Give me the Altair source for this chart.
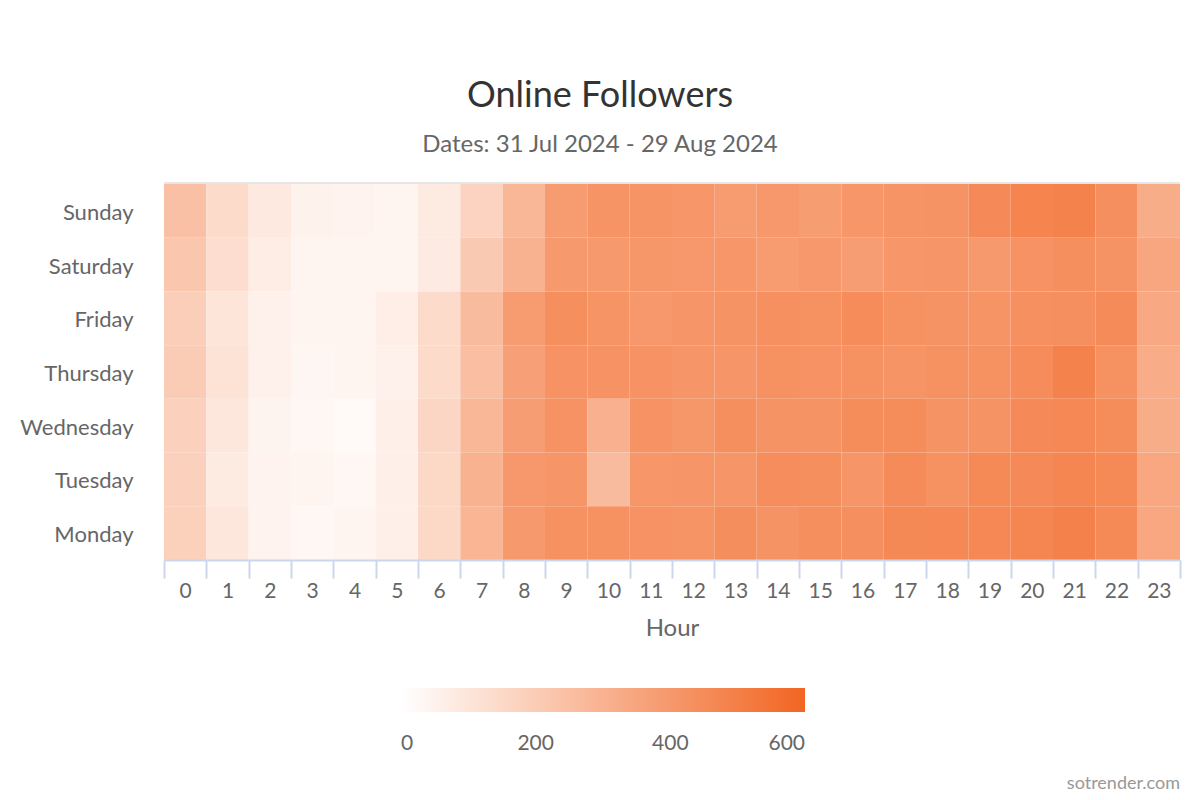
import altair as alt
import pandas as pd

days = ["Sunday", "Saturday", "Friday", "Thursday", "Wednesday", "Tuesday", "Monday"]
hours = list(range(24))

sunday    = [244, 142, 85, 52, 47, 41, 82, 172, 282, 389, 416, 416, 408, 389, 402, 383, 408, 416, 419, 454, 479, 487, 435, 320]
saturday  = [219, 131, 71, 38, 41, 41, 77, 211, 301, 394, 394, 405, 400, 408, 386, 402, 380, 408, 411, 397, 424, 438, 419, 348]
friday    = [189, 101, 57, 38, 38, 66, 140, 265, 386, 438, 416, 400, 411, 419, 432, 427, 449, 430, 419, 416, 432, 435, 452, 334]
thursday  = [200, 112, 57, 36, 38, 55, 140, 252, 369, 424, 424, 424, 411, 411, 427, 424, 427, 416, 430, 427, 449, 487, 427, 323]
wednesday = [183, 96, 44, 33, 22, 60, 159, 279, 380, 424, 307, 424, 405, 438, 419, 419, 446, 446, 419, 419, 454, 465, 446, 320]
tuesday   = [183, 82, 47, 41, 33, 60, 153, 301, 400, 411, 263, 408, 413, 413, 443, 438, 411, 452, 430, 457, 454, 473, 457, 342]
monday    = [181, 96, 47, 30, 38, 63, 151, 290, 397, 427, 430, 424, 416, 441, 421, 438, 435, 460, 462, 465, 473, 490, 457, 342]

series = [sunday, saturday, friday, thursday, wednesday, tuesday, monday]

rows = []
for d, vals in zip(days, series):
    for h, v in zip(hours, vals):
        rows.append({"day": d, "hour": h, "value": v})
df = pd.DataFrame(rows)

W, H = 1016, 376

heat = alt.Chart(df).mark_rect(strokeWidth=0).encode(
    x=alt.X("hour:O", sort=hours,
            scale=alt.Scale(paddingInner=0, paddingOuter=0),
            axis=alt.Axis(title="Hour", labelAngle=0, tickBand="extent",
                          tickSize=18, tickWidth=2, tickColor="#ccd6eb",
                          domainColor="#ccd6eb", domainWidth=2,
                          labelFontSize=21, labelColor="#666666", labelPadding=2,
                          titleFontSize=24, titleFontWeight="normal",
                          titleColor="#666666", titlePadding=15, grid=False)),
    y=alt.Y("day:N", sort=days,
            scale=alt.Scale(paddingInner=0, paddingOuter=0),
            axis=alt.Axis(title=None, ticks=False, tickSize=0, domain=False,
                          labelFontSize=22, labelColor="#666666",
                          labelPadding=31, labelOffset=2, grid=False)),
    color=alt.Color("value:Q",
                    scale=alt.Scale(domain=[0, 600], range=["#FFFFFF", "#F26522"],
                                    interpolate="rgb"),
                    legend=alt.Legend(title=None, orient="none", direction="horizontal",
                                      legendX=237, legendY=504,
                                      gradientLength=404, gradientThickness=24,
                                      gradientStrokeWidth=0,
                                      values=[0, 200, 400, 600],
                                      labelFontSize=21, labelColor="#666666",
                                      labelOffset=21)),
)

one = pd.DataFrame({"t": ["sotrender.com"]})

top_line = alt.Chart(one).mark_rule(color="#e6e6e6", strokeWidth=2).encode(
    x=alt.value(0), x2=alt.value(W), y=alt.value(-1)
)

credit = alt.Chart(one).mark_text(align="right", baseline="alphabetic",
                                  fontSize=18, color="#999999").encode(
    text="t:N", x=alt.value(W), y=alt.value(605)
)

chart = alt.layer(heat, top_line, credit).properties(
    width=W, height=H,
    title=alt.TitleParams(text="Online Followers",
                          subtitle="Dates: 31 Jul 2024 - 29 Aug 2024",
                          fontSize=36, fontWeight="normal", color="#333333",
                          subtitleFontSize=24, subtitleColor="#666666",
                          subtitlePadding=18, anchor="middle", dx=-72, offset=24),
    autosize=alt.AutoSizeParams(type="none"),
    padding={"left": 156, "top": 176, "right": 12, "bottom": 236},
).configure(font="Lato").configure_view(stroke=None)

chart.save("out.html", embed_options={"renderer": "svg", "actions": False})
